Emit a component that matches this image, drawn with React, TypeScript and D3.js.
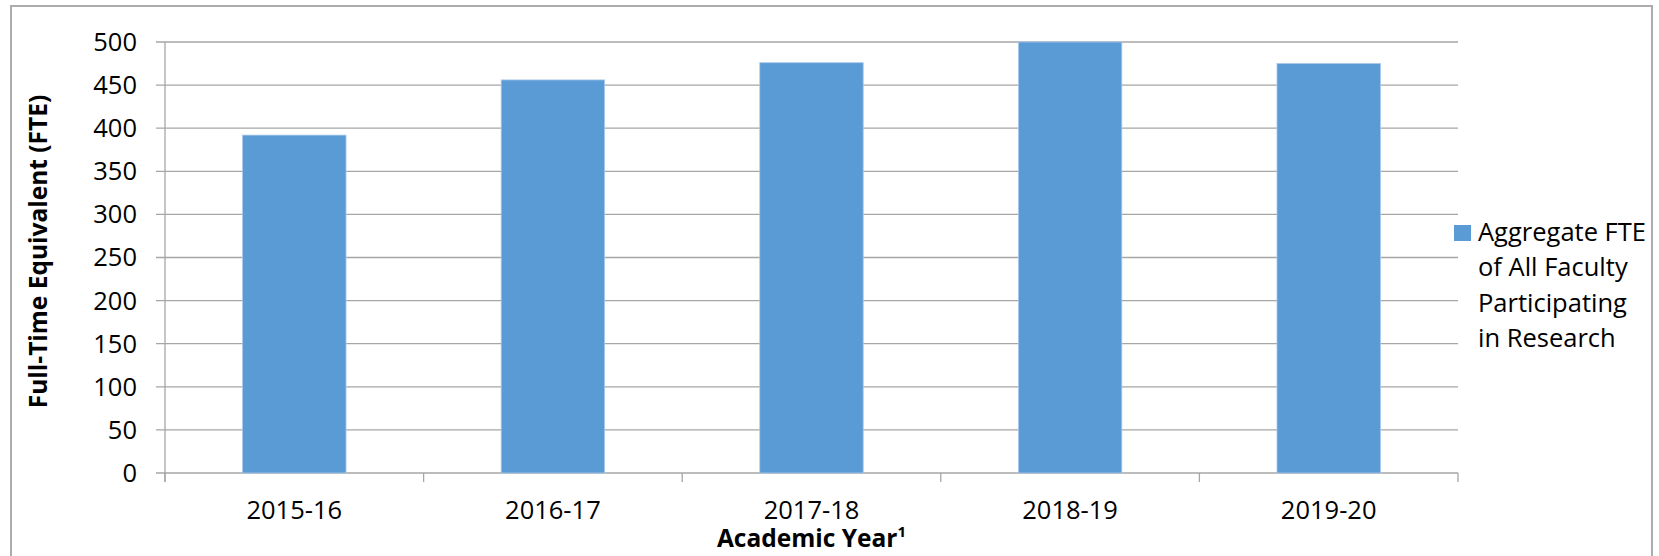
import React from "react";
import * as d3 from "d3";

const categories = ["2015-16", "2016-17", "2017-18", "2018-19", "2019-20"];
const values = [392, 456, 476, 500, 475];
const yTicks = [0, 50, 100, 150, 200, 250, 300, 350, 400, 450, 500];
const seriesName = ["Aggregate FTE", "of All Faculty", "Participating", "in Research"];
const yTitle = "Full-Time Equivalent (FTE)";
const xTitle = "Academic Year";

const W = 1659;
const H = 556;
const FONT = "'Open Sans', sans-serif";

export default function App() {
  const left = 165, right = 1458, top = 42, bottom = 473;
  const x = d3.scaleBand<string>().domain(categories).range([left, right]).paddingInner(0.6).paddingOuter(0.3);
  const y = d3.scaleLinear().domain([0, 500]).range([bottom, top]);
  const step = x.step();
  const grid = "#a6a6a6";
  return (
    <svg width={W} height={H} style={{ position: "absolute", left: 0, top: 0, background: "#fff" }}>
      <rect x={11} y={6} width={1641} height={600} fill="#fff" stroke="#acacac" strokeWidth={2} />
      {yTicks.map((t) => (
        <g key={t}>
          <line x1={left - 9} x2={right} y1={y(t)} y2={y(t)} stroke={grid} strokeWidth={1.3} />
          <text x={137} y={y(t)} dy="0.35em" textAnchor="end" fontFamily={FONT} fontSize={25.5} fill="#000">{t}</text>
        </g>
      ))}
      <line x1={left} x2={left} y1={top} y2={bottom + 9} stroke={grid} strokeWidth={1.3} />
      {d3.range(categories.length + 1).map((i) => (
        <line key={i} x1={left + i * step} x2={left + i * step} y1={bottom} y2={bottom + 9} stroke={grid} strokeWidth={1.3} />
      ))}
      {categories.map((c, i) => (
        <rect key={c} x={x(c)} y={y(values[i])} width={x.bandwidth()} height={bottom - y(values[i])} fill="#5b9bd5" stroke="#a9c9ea" strokeWidth={0.8} />
      ))}
      {categories.map((c) => (
        <text key={c} x={(x(c) as number) + x.bandwidth() / 2} y={519} textAnchor="middle" fontFamily={FONT} fontSize={25.5} fill="#000">{c}</text>
      ))}
      <text x={(left + right) / 2} y={547} textAnchor="middle" fontFamily={FONT} fontWeight="bold" fontSize={24.5} fill="#000">
        {xTitle}<tspan fontSize={15} dy={-10}>1</tspan>
      </text>
      <text transform={`translate(47,${(top + bottom) / 2 - 6}) rotate(-90)`} textAnchor="middle" fontFamily={FONT} fontWeight="bold" fontSize={24.5} fill="#000">
        {yTitle}
      </text>
      <rect x={1454} y={225} width={17} height={16} fill="#5b9bd5" />
      {seriesName.map((s, i) => (
        <text key={s} x={1478} y={241 + i * 35.4} fontFamily={FONT} fontSize={25.5} fill="#000">{s}</text>
      ))}
    </svg>
  );
}
